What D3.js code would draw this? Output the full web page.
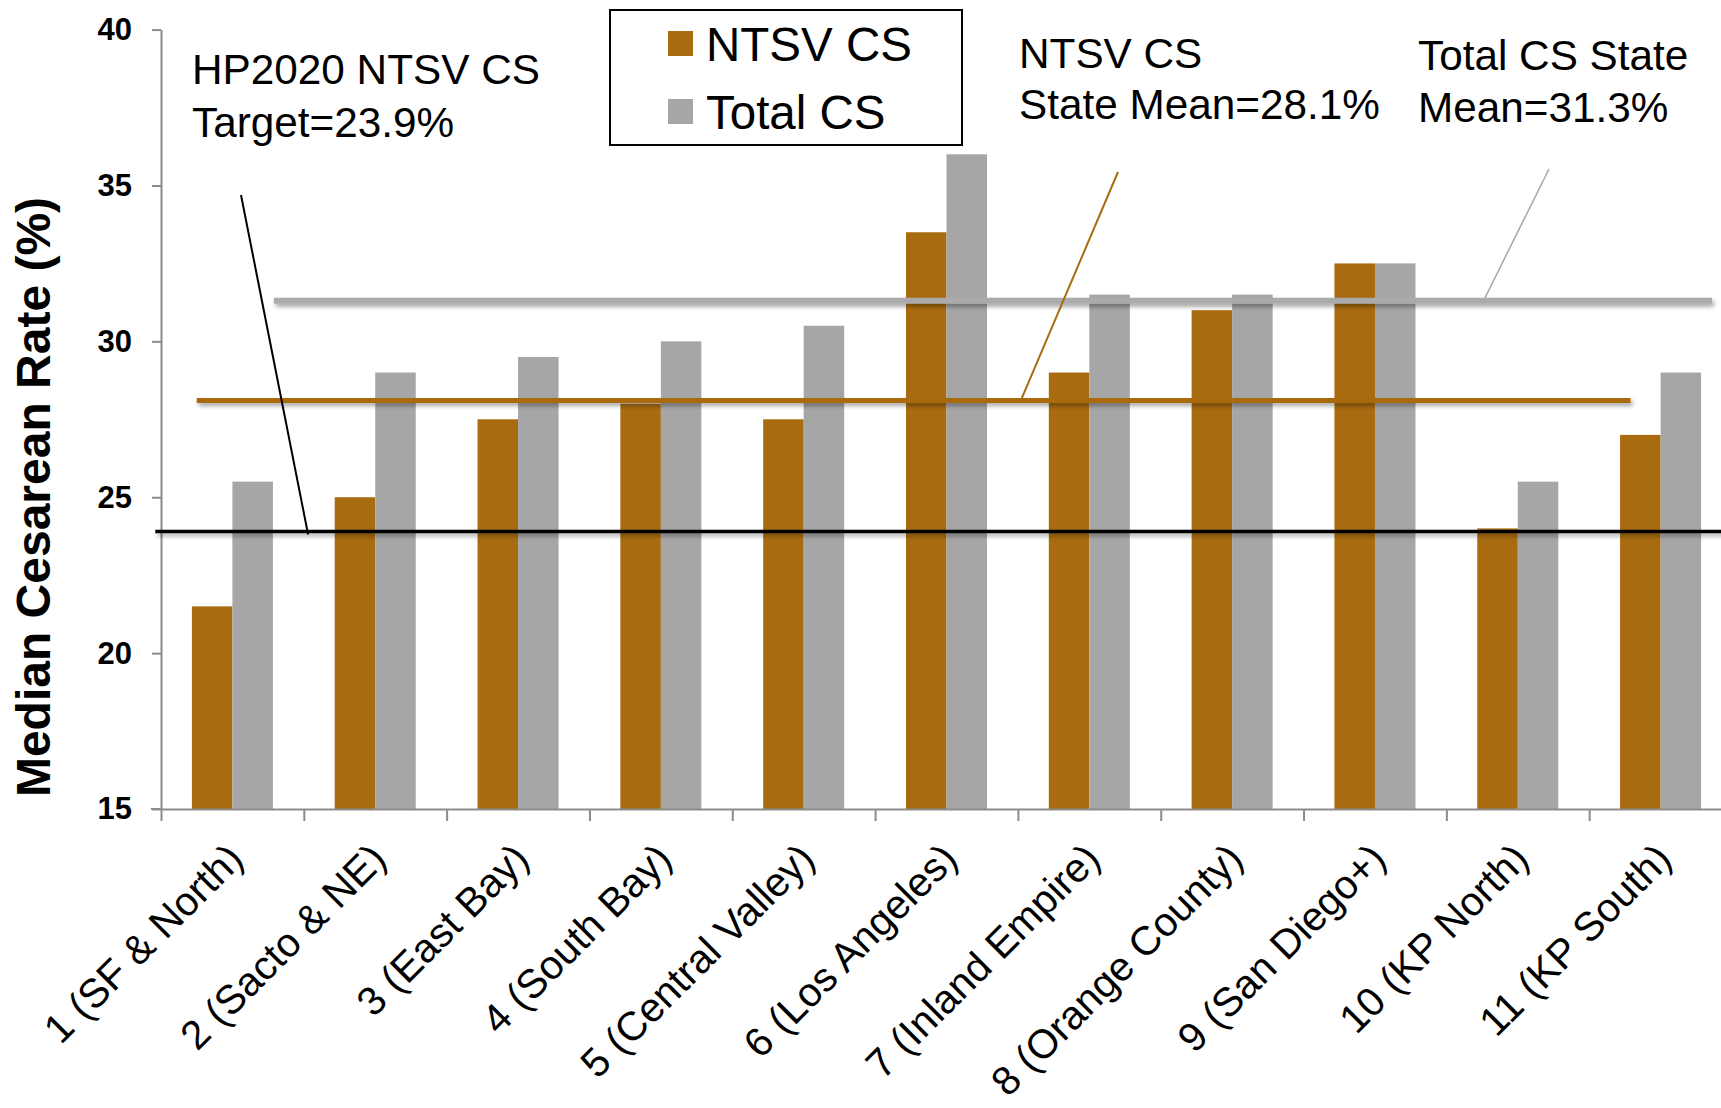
<!DOCTYPE html>
<html>
<head>
<meta charset="utf-8">
<script src="https://cdn.jsdelivr.net/npm/d3@7"></script>
<style>
  html, body { margin: 0; padding: 0; background: #ffffff; }
  svg { display: block; font-family: "Liberation Sans", Arial, Helvetica, sans-serif; }
</style>
</head>
<body>
<svg id="chart" width="1721" height="1108"></svg>
<script>
// Regions and their median cesarean rates (%)
const regions = [
  "1 (SF & North)", "2 (Sacto & NE)", "3 (East Bay)", "4 (South Bay)",
  "5 (Central Valley)", "6 (Los Angeles)", "7 (Inland Empire)",
  "8 (Orange County)", "9 (San Diego+)", "10 (KP North)", "11 (KP South)"
];
const ntsvCS  = [21.5, 25, 27.5, 28, 27.5, 33.5, 29, 31, 32.5, 24, 27];
const totalCS = [25.5, 29, 29.5, 30, 30.5, 36, 31.5, 31.5, 32.5, 25.5, 29];
const seriesNames = ["NTSV CS", "Total CS"];
const yTicks = [15, 20, 25, 30, 35, 40];

// Reference values
const hp2020Target = 23.9;
const ntsvStateMean = 28.1;
const totalStateMean = 31.3;

const colors = { ntsv: "#A86B10", total: "#A6A6A6" };
const axisColor = "#8C8C8C";

const svg = d3.select("#chart");

// Drop shadow for the reference lines (user-space region, since the lines have zero-height boxes)
const defs = svg.append("defs");
const f = defs.append("filter").attr("id", "lineShadow")
  .attr("filterUnits", "userSpaceOnUse")
  .attr("x", 0).attr("y", 0).attr("width", 1721).attr("height", 1108);
f.append("feDropShadow").attr("dx", 2).attr("dy", 3).attr("stdDeviation", 2)
  .attr("flood-color", "#000").attr("flood-opacity", 0.35);

// Plot geometry
const plotLeft = 161, plotRight = 1732, plotTop = 29.6, plotBottom = 809;

const y = d3.scaleLinear().domain([15, 40]).range([plotBottom, plotTop]);
const x = d3.scaleBand().domain(regions).range([plotLeft, plotRight]).paddingInner(0).paddingOuter(0);
const slot = d3.scaleLinear().domain([0, regions.length]).range([plotLeft, plotRight]);
const xInner = d3.scaleBand().domain(["ntsv", "total"]).range([0, x.bandwidth()]).paddingInner(0).paddingOuter(0.763);

const rows = regions.map((r, i) => ({ region: r, ntsv: ntsvCS[i], total: totalCS[i] }));

// Bars
const groups = svg.append("g").selectAll("g").data(rows).join("g")
  .attr("transform", d => `translate(${x(d.region)},0)`);
groups.selectAll("rect").data(d => ["ntsv", "total"].map(k => ({ key: k, value: d[k] }))).join("rect")
  .attr("x", d => xInner(d.key))
  .attr("width", xInner.bandwidth())
  .attr("y", d => y(d.value))
  .attr("height", d => y(15) - y(d.value))
  .attr("fill", d => colors[d.key]);

// Y axis
const yAxis = svg.append("g").attr("transform", `translate(${plotLeft},0)`)
  .call(d3.axisLeft(y).tickValues(yTicks).tickSize(9).tickPadding(20).tickSizeOuter(0));
yAxis.attr("font-size", null).attr("font-family", null);
yAxis.select(".domain").attr("stroke", axisColor).attr("stroke-width", 2);
yAxis.selectAll(".tick line").attr("stroke", axisColor).attr("stroke-width", 2);
yAxis.selectAll(".tick text").attr("fill", "#000")
  .style("font-size", "31px").style("font-weight", "bold");

// X axis: ticks at region boundaries
const xAxis = svg.append("g").attr("transform", `translate(0,${plotBottom})`)
  .call(d3.axisBottom(slot).tickValues(d3.range(0, regions.length + 1)).tickSize(12).tickFormat("").tickSizeOuter(0));
xAxis.select(".domain").attr("stroke", axisColor).attr("stroke-width", 2);
xAxis.selectAll(".tick line").attr("stroke", axisColor).attr("stroke-width", 2);
svg.append("line").attr("x1", 151).attr("x2", plotLeft).attr("y1", plotBottom).attr("y2", plotBottom)
  .attr("stroke", axisColor).attr("stroke-width", 2);

// X labels, rotated
svg.append("g").selectAll("text").data(regions).join("text")
  .attr("transform", d => `translate(${x(d) + x.bandwidth() / 2 + 13},${plotBottom + 52}) rotate(-45)`)
  .attr("text-anchor", "end")
  .attr("font-size", 40.5)
  .attr("fill", "#000")
  .text(d => d);

// Y axis title
svg.append("text")
  .attr("transform", `translate(50,497) rotate(-90)`)
  .attr("text-anchor", "middle")
  .attr("font-size", 48)
  .attr("font-weight", "bold")
  .attr("fill", "#000")
  .text("Median Cesarean Rate (%)");

// Reference lines
const refLines = [
  { value: totalStateMean, from: 0.79, to: 10.86, color: "#ABABAB", width: 6 },
  { value: ntsvStateMean, from: 0.25, to: 10.29, color: colors.ntsv, width: 5 },
  { value: hp2020Target, from: -0.04, to: 11.2, color: "#000", width: 3.5 }
];
svg.append("g").selectAll("line").data(refLines).join("line")
  .attr("x1", d => slot(d.from)).attr("x2", d => slot(d.to))
  .attr("y1", d => y(d.value)).attr("y2", d => y(d.value))
  .attr("stroke", d => d.color).attr("stroke-width", d => d.width)
  .attr("filter", "url(#lineShadow)");

// Leader lines from annotations to reference lines
const leaders = [
  { x1: 241, y1: 195, at: 1.03, value: hp2020Target, dy: 3, color: "#000", width: 2 },
  { x1: 1118, y1: 172, at: 6.02, value: ntsvStateMean, dy: 0, color: colors.ntsv, width: 2 },
  { x1: 1549, y1: 169, at: 9.26, value: totalStateMean, dy: 0, color: "#A6A6A6", width: 1.5 }
];
svg.append("g").selectAll("line").data(leaders).join("line")
  .attr("x1", d => d.x1).attr("y1", d => d.y1)
  .attr("x2", d => slot(d.at)).attr("y2", d => y(d.value) + d.dy)
  .attr("stroke", d => d.color).attr("stroke-width", d => d.width);

// Annotation texts
const notes = [
  { x: 192, y: 84, lines: ["HP2020 NTSV CS", `Target=${hp2020Target}%`], gap: 53 },
  { x: 1019, y: 68, lines: ["NTSV CS", `State Mean=${ntsvStateMean}%`], gap: 51 },
  { x: 1418, y: 70, lines: ["Total CS State", `Mean=${totalStateMean}%`], gap: 52 }
];
notes.forEach(n => {
  const t = svg.append("text").attr("x", n.x).attr("y", n.y).attr("font-size", 42.3).attr("fill", "#000");
  n.lines.forEach((l, i) => t.append("tspan").attr("x", n.x).attr("dy", i === 0 ? 0 : n.gap).text(l));
});

// Legend
const legend = svg.append("g");
legend.append("rect").attr("x", 610).attr("y", 10).attr("width", 352).attr("height", 135)
  .attr("fill", "#fff").attr("stroke", "#000").attr("stroke-width", 2);
const legendItems = legend.selectAll("g").data(seriesNames).join("g")
  .attr("transform", (d, i) => `translate(668,${31 + i * 68})`);
legendItems.append("rect").attr("width", 25).attr("height", 25)
  .attr("fill", (d, i) => i === 0 ? colors.ntsv : colors.total);
legendItems.append("text").attr("x", 38).attr("y", 29.5).attr("font-size", 47.5).attr("fill", "#000")
  .text(d => d);
</script>
</body>
</html>
